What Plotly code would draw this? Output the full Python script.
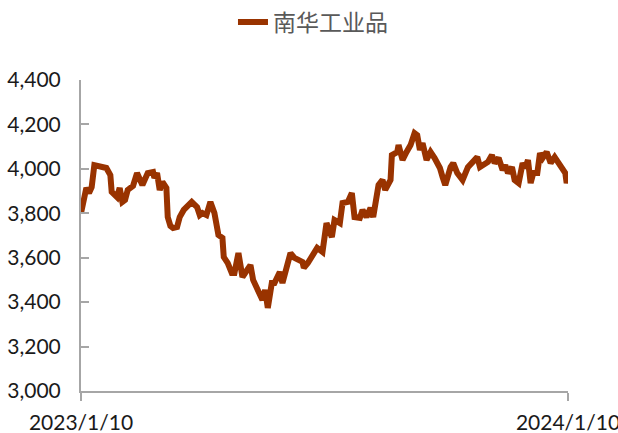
import plotly.graph_objects as go

dates = [
    "2023-01-10", "2023-01-12", "2023-01-14", "2023-01-16", "2023-01-18", "2023-01-20",
    "2023-01-24", "2023-01-29", "2023-02-01", "2023-02-02", "2023-02-06", "2023-02-08",
    "2023-02-10", "2023-02-12", "2023-02-14", "2023-02-18", "2023-02-21", "2023-02-23",
    "2023-02-25", "2023-03-01", "2023-03-05", "2023-03-06", "2023-03-08", "2023-03-10",
    "2023-03-12", "2023-03-15", "2023-03-16", "2023-03-18", "2023-03-20", "2023-03-23",
    "2023-03-25", "2023-03-28", "2023-03-30", "2023-04-03", "2023-04-07", "2023-04-09",
    "2023-04-11", "2023-04-14", "2023-04-17", "2023-04-20", "2023-04-23", "2023-04-26",
    "2023-04-27", "2023-04-30", "2023-05-03", "2023-05-05", "2023-05-08", "2023-05-11",
    "2023-05-13", "2023-05-17", "2023-05-19", "2023-05-23", "2023-05-26", "2023-05-28",
    "2023-05-30", "2023-06-02", "2023-06-04", "2023-06-08", "2023-06-10", "2023-06-16",
    "2023-06-19", "2023-06-25", "2023-06-26", "2023-06-29", "2023-07-03", "2023-07-06",
    "2023-07-10", "2023-07-13", "2023-07-17", "2023-07-19", "2023-07-23", "2023-07-25",
    "2023-07-29", "2023-08-01", "2023-08-03", "2023-08-07", "2023-08-09", "2023-08-12",
    "2023-08-15", "2023-08-17", "2023-08-21", "2023-08-24", "2023-08-26", "2023-08-30",
    "2023-08-31", "2023-09-04", "2023-09-05", "2023-09-08", "2023-09-11", "2023-09-14",
    "2023-09-17", "2023-09-19", "2023-09-21", "2023-09-23", "2023-09-26", "2023-09-29",
    "2023-10-02", "2023-10-06", "2023-10-08", "2023-10-10", "2023-10-14", "2023-10-16",
    "2023-10-19", "2023-10-23", "2023-10-27", "2023-10-31", "2023-11-03", "2023-11-05",
    "2023-11-07", "2023-11-11", "2023-11-14", "2023-11-16", "2023-11-19", "2023-11-22",
    "2023-11-24", "2023-11-26", "2023-11-29", "2023-12-01", "2023-12-04", "2023-12-07",
    "2023-12-09", "2023-12-11", "2023-12-13", "2023-12-15", "2023-12-18", "2023-12-20",
    "2023-12-22", "2023-12-25", "2023-12-28", "2023-12-31", "2024-01-03", "2024-01-06",
    "2024-01-08", "2024-01-09", "2024-01-10",
]

nanhua_industrial = [
    3801, 3860, 3914, 3891, 3918, 4017,
    4013, 4004, 3972, 3896, 3873, 3914,
    3851, 3860, 3905, 3923, 3981, 3950,
    3927, 3981, 3986, 3959, 3981, 3905,
    3941, 3914, 3783, 3743, 3734, 3738,
    3783, 3815, 3828, 3851, 3828, 3792,
    3801, 3792, 3851, 3801, 3702, 3689,
    3603, 3576, 3531, 3531, 3621, 3513,
    3531, 3567, 3500, 3446, 3410, 3455,
    3374, 3486, 3486, 3536, 3486, 3621,
    3599, 3581, 3554, 3576, 3612, 3644,
    3626, 3756, 3693, 3770, 3756, 3846,
    3851, 3891, 3783, 3779, 3815, 3783,
    3824, 3783, 3927, 3950, 3905, 3950,
    4062, 4076, 4107, 4040, 4076, 4107,
    4161, 4152, 4085, 4116, 4040, 4076,
    4049, 4004, 3963, 3927, 4008, 4026,
    3981, 3950, 4008, 4031, 4053, 4008,
    4017, 4031, 4062, 4026, 4049, 3995,
    4017, 3981, 4008, 3950, 3936, 4026,
    4004, 4040, 3936, 3981, 3981, 4071,
    4049, 4076, 4026, 4053, 4026, 3995,
    3981, 3936, 3963,
]

series_name = "南华工业品"
y_ticks = [3000, 3200, 3400, 3600, 3800, 4000, 4200, 4400]
x_ticks = ["2023-01-10", "2024-01-10"]
x_tick_labels = ["2023/1/10", "2024/1/10"]

fig = go.Figure()
fig.add_trace(go.Scatter(
    x=dates, y=nanhua_industrial, mode="lines", name=series_name,
    line=dict(color="#993300", width=6),
))

axis_color = "#a6a6a6"
tick_font = dict(family="Lato, Carlito, Liberation Sans, sans-serif", size=21, color="#1a1a1a")

fig.update_layout(
    width=618, height=433,
    margin=dict(l=81, r=50, t=80, b=42, autoexpand=False),
    paper_bgcolor="white", plot_bgcolor="white",
    showlegend=True,
    legend=dict(
        orientation="h", xref="container", yref="container",
        x=0.377, xanchor="left", y=0.949, yanchor="middle",
        font=dict(family="Noto Sans CJK SC", size=23, color="#595959"),
        bgcolor="rgba(0,0,0,0)",
    ),
    xaxis=dict(
        type="date", range=[x_ticks[0], x_ticks[1]],
        tickmode="array", tickvals=x_ticks, ticktext=x_tick_labels,
        showgrid=False, zeroline=False, automargin=False,
        showline=True, linecolor=axis_color, linewidth=2,
        ticks="outside", ticklen=8, tickcolor=axis_color, tickwidth=2,
        ticklabeloverflow="allow", ticklabelstandoff=4,
        tickfont=tick_font,
    ),
    yaxis=dict(
        range=[3000, 4400], tickmode="array", tickvals=y_ticks,
        tickformat=",d",
        showgrid=False, zeroline=False, automargin=False,
        showline=True, linecolor=axis_color, linewidth=2,
        ticks="inside", ticklen=8, tickcolor=axis_color, tickwidth=2,
        ticklabelstandoff=14,
        tickfont=tick_font,
    ),
)

fig.write_html(
    "out.html",
    config={"displayModeBar": False},
    post_script="document.body.style.margin='0';document.body.style.overflow='hidden';",
)
